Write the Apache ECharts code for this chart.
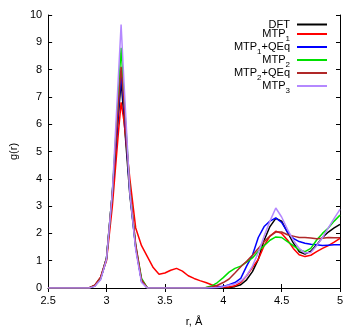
<!DOCTYPE html>
<html>
<head>
<meta charset="utf-8">
<script src="https://cdn.jsdelivr.net/npm/echarts@6/dist/echarts.min.js"></script>
<style>
    html, body { margin: 0; padding: 0; background: #fff; }
    #rdf_chart { width: 360px; height: 332px; }
</style>
</head>
<body>
<div id="rdf_chart"></div>
<script>
// r grid, Å
var r = [2.5, 2.8, 2.85, 2.9, 2.95, 3.0, 3.05, 3.1, 3.125, 3.15, 3.2, 3.25, 3.3, 3.35,
    3.4, 3.45, 3.5, 3.55, 3.6, 3.65, 3.7, 3.75,
    3.8, 3.85, 3.9, 3.95, 4.0, 4.05, 4.1, 4.15,
    4.2, 4.25, 4.3, 4.35, 4.4, 4.45, 4.5, 4.55, 4.6, 4.65, 4.7, 4.75, 4.8, 4.85, 4.9, 4.95, 5.0];

var seriesNames = ['DFT', 'MTP1', 'MTP1+QEq', 'MTP2', 'MTP2+QEq', 'MTP3'];
var seriesColors = ['#000000', '#ff0000', '#0000ff', '#00e000', '#b02828', '#b488ff'];

var gDFT = [0, 0, 0, 0.08, 0.35, 1.05, 3.4, 6.2, 7.6, 6.2, 3.4, 1.5, 0.25, 0,
    0, 0, 0, 0, 0, 0, 0, 0,
    0, 0, 0, 0, 0, 0.02, 0.05, 0.12,
    0.3, 0.6, 1.05, 1.75, 2.25, 2.55, 2.45, 2.05, 1.65, 1.33, 1.24, 1.35, 1.58, 1.85, 2.05, 2.2, 2.33];
var gMTP1 = [0, 0, 0, 0.1, 0.4, 1.0, 3.0, 5.6, 6.8, 6.1, 4.0, 2.2, 1.55, 1.15,
    0.75, 0.5, 0.55, 0.65, 0.72, 0.62, 0.45, 0.35,
    0.27, 0.2, 0.12, 0.06, 0.04, 0.04, 0.08, 0.2,
    0.45, 0.75, 1.05, 1.55, 1.9, 2.08, 2.0, 1.76, 1.45, 1.22, 1.15, 1.2, 1.33, 1.45, 1.55, 1.68, 1.82];
var gMTP1QEq = [0, 0, 0, 0.08, 0.35, 1.1, 3.5, 6.4, 7.85, 6.6, 3.5, 1.5, 0.25, 0,
    0, 0, 0, 0, 0, 0, 0, 0,
    0, 0, 0.01, 0.03, 0.06, 0.12, 0.2, 0.35,
    0.8, 1.2, 1.85, 2.25, 2.45, 2.57, 2.4, 2.05, 1.82, 1.7, 1.64, 1.6, 1.58, 1.56, 1.57, 1.58, 1.58];
var gMTP2 = [0, 0, 0, 0.08, 0.35, 1.1, 3.5, 7.0, 8.8, 7.0, 3.6, 1.55, 0.35, 0,
    0, 0, 0, 0, 0, 0, 0, 0,
    0, 0.02, 0.07, 0.2, 0.38, 0.58, 0.72, 0.8,
    0.95, 1.1, 1.35, 1.55, 1.75, 1.87, 1.85, 1.7, 1.55, 1.4, 1.33, 1.45, 1.76, 2.0, 2.2, 2.45, 2.67];
var gMTP2QEq = [0, 0, 0, 0.1, 0.4, 1.1, 3.5, 6.6, 8.1, 6.8, 3.6, 1.6, 0.3, 0,
    0, 0, 0, 0, 0, 0, 0, 0,
    0, 0.01, 0.04, 0.1, 0.2, 0.33, 0.55, 0.78,
    0.98, 1.2, 1.45, 1.7, 1.9, 2.05, 2.05, 1.95, 1.9, 1.85, 1.85, 1.83, 1.8, 1.82, 1.85, 1.84, 1.84];
var gMTP3 = [0, 0, 0, 0.06, 0.3, 1.05, 3.5, 7.6, 9.65, 7.5, 3.5, 1.4, 0.2, 0,
    0, 0, 0, 0, 0, 0, 0, 0,
    0, 0, 0.01, 0.02, 0.05, 0.1, 0.15, 0.25,
    0.45, 0.8, 1.3, 1.9, 2.45, 2.93, 2.6, 2.15, 1.75, 1.45, 1.28, 1.3, 1.55, 1.85, 2.2, 2.55, 2.88];

var seriesValues = [gDFT, gMTP1, gMTP1QEq, gMTP2, gMTP2QEq, gMTP3];

var font = '"Liberation Sans", Arial, sans-serif';

function pairs(vals) {
    var res = [];
    for (var i = 0; i < r.length; i++) {
        res.push([r[i], vals[i]]);
    }
    return res;
}

function legendLabel(name) {
    var m = name.match(/^MTP(\d)(.*)$/);
    if (!m) return '{n|' + name + '}';
    return '{n|MTP}{s|' + m[1] + '}' + (m[2] ? '{n|' + m[2] + '}' : '');
}

var chart = echarts.init(document.getElementById('rdf_chart'));

var tickStyle = { show: true, inside: true, length: 4, lineStyle: { color: '#000', width: 1 } };
var lineStyle = { show: true, lineStyle: { color: '#000', width: 1 } };

var series = [];
for (var k = 0; k < seriesNames.length; k++) {
    series.push({
        name: seriesNames[k],
        type: 'line',
        data: pairs(seriesValues[k]),
        showSymbol: false,
        symbol: 'none',
        lineStyle: { color: seriesColors[k], width: 1.5 },
        itemStyle: { color: seriesColors[k] }
    });
}

chart.setOption({
    animation: false,
    backgroundColor: '#fff',
    textStyle: { fontFamily: font },
    grid: { left: 47, right: 20, top: 15, bottom: 42 },
    legend: {
        orient: 'vertical',
        right: 33,
        top: 19,
        padding: 0,
        align: 'right',
        icon: 'rect',
        itemWidth: 30,
        itemHeight: 2,
        itemGap: -5,
        data: seriesNames,
        formatter: legendLabel,
        textStyle: {
            fontFamily: font,
            color: '#000',
            padding: [0, 2, 0, 0],
            rich: {
                n: { fontSize: 11, lineHeight: 18, fontFamily: font, color: '#000' },
                s: { fontSize: 8, lineHeight: 8, padding: [10, 0, 0, 0], fontFamily: font, color: '#000' }
            }
        }
    },
    xAxis: [{
        type: 'value',
        position: 'bottom',
        min: 2.5,
        max: 5,
        interval: 0.5,
        axisLine: lineStyle,
        axisTick: tickStyle,
        splitLine: { show: false },
        axisLabel: { color: '#000', fontSize: 11, margin: 7, fontFamily: font },
        name: 'r, Å',
        nameLocation: 'middle',
        nameGap: 28,
        nameTextStyle: { color: '#000', fontSize: 11, fontFamily: font }
    }, {
        type: 'value',
        position: 'top',
        min: 2.5,
        max: 5,
        interval: 0.5,
        axisLine: lineStyle,
        axisTick: tickStyle,
        splitLine: { show: false },
        axisLabel: { show: false }
    }],
    yAxis: [{
        type: 'value',
        position: 'left',
        min: 0,
        max: 10,
        interval: 1,
        axisLine: lineStyle,
        axisTick: tickStyle,
        splitLine: { show: false },
        axisLabel: { color: '#000', fontSize: 11, margin: 6, fontFamily: font },
        name: 'g(r)',
        nameLocation: 'middle',
        nameGap: 28,
        nameTextStyle: { color: '#000', fontSize: 11, fontFamily: font }
    }, {
        type: 'value',
        position: 'right',
        min: 0,
        max: 10,
        interval: 1,
        axisLine: lineStyle,
        axisTick: tickStyle,
        splitLine: { show: false },
        axisLabel: { show: false }
    }],
    series: series
});
</script>
</body>
</html>
